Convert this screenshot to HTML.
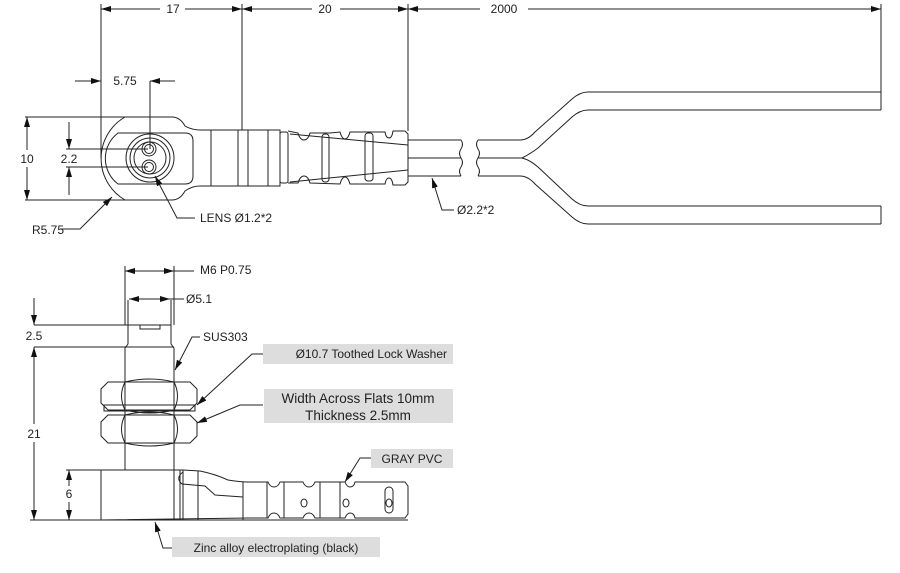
<!DOCTYPE html>
<html><head><meta charset="utf-8"><style>
html,body{margin:0;padding:0;background:#fff;}
svg{display:block;}
text{font-family:"Liberation Sans",sans-serif;fill:#222;}
</style></head><body>
<svg width="900" height="573" viewBox="0 0 900 573" xmlns="http://www.w3.org/2000/svg">
<defs>
<marker id="a" viewBox="0 0 10 6" refX="10" refY="3" markerWidth="10" markerHeight="6" orient="auto-start-reverse" markerUnits="userSpaceOnUse"><path d="M0,0L10,3L0,6z" fill="#111"/></marker>
</defs>
<g stroke="#222" stroke-width="1" fill="none">
<line x1="101" y1="4" x2="101" y2="158"/>
<line x1="242" y1="4" x2="242" y2="130"/>
<line x1="408" y1="4" x2="408" y2="131"/>
<line x1="881" y1="4" x2="881" y2="110"/>
<line x1="101" y1="9" x2="160" y2="9" marker-start="url(#a)"/>
<line x1="185" y1="9" x2="242" y2="9" marker-end="url(#a)"/>
<line x1="242" y1="9" x2="312" y2="9" marker-start="url(#a)"/>
<line x1="340" y1="9" x2="408" y2="9" marker-end="url(#a)"/>
<line x1="408" y1="9" x2="480" y2="9" marker-start="url(#a)"/>
<line x1="528" y1="9" x2="881" y2="9" marker-end="url(#a)"/>
<line x1="75" y1="81" x2="101" y2="81" marker-end="url(#a)"/>
<line x1="175" y1="81" x2="150" y2="81" marker-end="url(#a)"/>
<line x1="150" y1="81" x2="150" y2="149"/>
<line x1="25" y1="117" x2="172" y2="117"/>
<line x1="25" y1="200" x2="125" y2="200"/>
<line x1="27" y1="117" x2="27" y2="150" marker-start="url(#a)"/>
<line x1="27" y1="167" x2="27" y2="200" marker-end="url(#a)"/>
<line x1="66" y1="149" x2="148" y2="149"/>
<line x1="66" y1="167" x2="148" y2="167"/>
<line x1="69" y1="122" x2="69" y2="149" marker-end="url(#a)"/>
<line x1="69" y1="195" x2="69" y2="167" marker-end="url(#a)"/>
<path d="M125,117 L172,117 Q180,117 185,126 Q192,130 200,130 L280,130 L280,186 L200,186 Q192,186 185,191 Q180,200 172,200 L125,200 A48,48 0 0 1 125,117 Z"/>
<path d="M118,133 L185,133 Q193,133 193,141 L193,176 Q193,184 185,184 L118,184 A32,32 0 0 1 118,133 Z"/>
<circle cx="150" cy="158" r="24"/>
<circle cx="150" cy="158" r="20"/>
<circle cx="150" cy="158" r="16"/>
<circle cx="149" cy="149" r="7"/><circle cx="149" cy="149" r="4.5"/>
<circle cx="149" cy="167" r="7"/><circle cx="149" cy="167" r="4.5"/>
<line x1="211" y1="130" x2="211" y2="186"/>
<line x1="238" y1="130" x2="238" y2="186"/>
<line x1="248" y1="130" x2="248" y2="186"/>
<line x1="268" y1="130" x2="268" y2="186"/>
<rect x="280" y="132" width="8" height="51" rx="2"/>
<path d="M288,131 L298,133 Q300,140 304,140 Q308,140 310,133 L320,133 L330,133 L340,132 Q342,139 345,139 Q348,139 350,132 L385,132 Q386,138 389,138 Q392,138 393,131 L405,131 L408,134 L408,182 L405,185 L393,185 Q392,178 389,178 Q386,178 385,184 L350,184 Q348,177 345,177 Q342,177 340,184 L310,183 Q308,176 304,176 Q300,176 298,183 L288,183"/>
<rect x="322" y="134" width="7" height="48" rx="3"/>
<rect x="365" y="133" width="8" height="48" rx="3"/>
<line x1="290" y1="134" x2="408" y2="145"/>
<line x1="290" y1="182" x2="408" y2="170"/>
<line x1="408" y1="140" x2="461" y2="140"/><line x1="408" y1="158" x2="461" y2="158"/><line x1="408" y1="176" x2="461" y2="176"/>
<path d="M461,140 q3,4 0,9 q-3,4 0,9 q3,4 0,9 q-3,4 0,9"/>
<path d="M478,140 q-3,4 0,9 q3,4 0,9 q-3,4 0,9 q3,4 0,9"/>
<line x1="478" y1="140" x2="520" y2="140"/><line x1="478" y1="158" x2="522" y2="158"/><line x1="478" y1="176" x2="520" y2="176"/>
<path d="M520,140 Q528,140 535,132 L572,99 Q580,92 588,92 L881,92"/>
<path d="M522,158 Q530,154 538,148 L572,117 Q580,110 588,110 L881,110"/>
<path d="M522,158 Q530,160 538,167 L572,199 Q580,206 588,206 L881,206"/>
<path d="M520,176 Q528,176 535,184 L572,217 Q580,224 588,224 L881,224"/>
<line x1="881" y1="206" x2="881" y2="224"/>
<path d="M60,229 L80,229 L112,197" marker-end="url(#a)"/>
<path d="M195,218 L177,218 L155,176" marker-end="url(#a)"/>
<path d="M454,210 L442,210 L432,178" marker-end="url(#a)"/>
<line x1="125" y1="266" x2="125" y2="325"/><line x1="174" y1="266" x2="174" y2="325"/>
<line x1="125" y1="271" x2="174" y2="271" marker-start="url(#a)" marker-end="url(#a)"/>
<line x1="174" y1="271" x2="194" y2="271"/>
<line x1="129" y1="299" x2="170" y2="299" marker-start="url(#a)" marker-end="url(#a)"/>
<line x1="170" y1="299" x2="184" y2="299"/>
<line x1="34" y1="298" x2="34" y2="325" marker-end="url(#a)"/>
<line x1="34" y1="325" x2="128" y2="325"/>
<line x1="34" y1="347" x2="125" y2="347"/>
<line x1="34" y1="347" x2="34" y2="424" marker-start="url(#a)"/>
<line x1="34" y1="442" x2="34" y2="520" marker-end="url(#a)"/>
<line x1="69" y1="470" x2="69" y2="486" marker-start="url(#a)"/>
<line x1="69" y1="502" x2="69" y2="520" marker-end="url(#a)"/>
<line x1="66" y1="470" x2="101" y2="470"/>
<line x1="30" y1="520" x2="408" y2="520"/>
<path d="M128,300 L128,344 L125,348 L125,470"/>
<path d="M171,300 L171,344 L174,348 L174,470"/>
<line x1="128" y1="325" x2="171" y2="325"/>
<path d="M140,325 L140,329 L160,329 L160,325"/>
<line x1="125" y1="347" x2="174" y2="347"/>
<path d="M108,382 L190,382 L197,389 L197,403 L190,410 L108,410 L101,403 L101,389 Z"/>
<path d="M125,382 Q118,396 125,410 M174,382 Q181,396 174,410 M125,382 Q150,376 174,382 M125,410 Q150,416 174,410"/>
<rect x="104" y="405" width="91" height="6"/>
<path d="M108,415 L190,415 L197,422 L197,436 L190,443 L108,443 L101,436 L101,422 Z"/>
<path d="M125,415 Q118,429 125,443 M174,415 Q181,429 174,443 M125,415 Q150,409 174,415 M125,443 Q150,449 174,443"/>
<path d="M101,470 L183,470 L200,471 Q215,474 228,480 Q240,482 248,482 L268,482 Q270,487 274,487 Q278,487 280,482 L303,482 Q305,487 309,487 Q313,487 315,482 L345,482 Q347,487 350,487 Q354,487 355,482 L405,482 L408,486 L408,514 L405,518 L355,518 Q354,513 350,513 Q347,513 345,518 L315,518 Q313,513 309,513 Q305,513 303,518 L280,518 Q278,513 274,513 Q270,513 268,518 L248,518 L101,520 Z"/>
<line x1="174" y1="470" x2="174" y2="520"/>
<line x1="180" y1="470" x2="180" y2="520"/>
<line x1="183" y1="470" x2="183" y2="520"/>
<line x1="198" y1="471" x2="198" y2="520"/>
<line x1="243" y1="482" x2="243" y2="520"/>
<line x1="267" y1="482" x2="267" y2="518"/>
<line x1="284" y1="482" x2="284" y2="518"/>
<line x1="320" y1="482" x2="320" y2="518"/>
<line x1="340" y1="482" x2="340" y2="518"/>
<path d="M183,472 Q175,478 182,484 L205,486 L215,495 L243,497"/>
<rect x="385" y="487" width="8" height="26" rx="4"/>
<ellipse cx="304" cy="503" rx="3" ry="4"/><ellipse cx="346" cy="503" rx="3" ry="4"/><ellipse cx="389" cy="503" rx="3" ry="4"/>
<path d="M200,337 L192,337 L175,370" marker-end="url(#a)"/>
<path d="M263,354 L252,354 L197,405" marker-end="url(#a)"/>
<path d="M263,405 L240,405 L197,423" marker-end="url(#a)"/>
<path d="M371,458 L360,458 L345,482" marker-end="url(#a)"/>
<path d="M172,548 L163,548 L155,522" marker-end="url(#a)"/>
</g>
<g fill="#ddd">
<rect x="263" y="344" width="190" height="20"/>
<rect x="264" y="389" width="189" height="34"/>
<rect x="371" y="449" width="82" height="19"/>
<rect x="172" y="537" width="208" height="20"/>
</g>
<g font-size="12">
<text x="173" y="13" text-anchor="middle">17</text>
<text x="325" y="13" text-anchor="middle">20</text>
<text x="504" y="13" text-anchor="middle">2000</text>
<text x="125" y="85" text-anchor="middle">5.75</text>
<text x="27" y="163" text-anchor="middle">10</text>
<text x="69" y="163" text-anchor="middle">2.2</text>
<text x="32" y="234">R5.75</text>
<text x="200" y="222">LENS Ø1.2*2</text>
<text x="457" y="214">Ø2.2*2</text>
<text x="200" y="274">M6 P0.75</text>
<text x="186" y="303">Ø5.1</text>
<text x="34" y="340" text-anchor="middle">2.5</text>
<text x="34" y="438" text-anchor="middle">21</text>
<text x="69" y="498" text-anchor="middle">6</text>
<text x="203" y="341">SUS303</text>
<text x="447" y="358" text-anchor="end">Ø10.7 Toothed Lock Washer</text>
<text x="358" y="403" text-anchor="middle" font-size="13.5">Width Across Flats 10mm</text>
<text x="358" y="420" text-anchor="middle" font-size="13.5">Thickness 2.5mm</text>
<text x="412" y="463" text-anchor="middle">GRAY PVC</text>
<text x="276" y="552" text-anchor="middle">Zinc alloy electroplating (black)</text>
</g>
</svg>
</body></html>
